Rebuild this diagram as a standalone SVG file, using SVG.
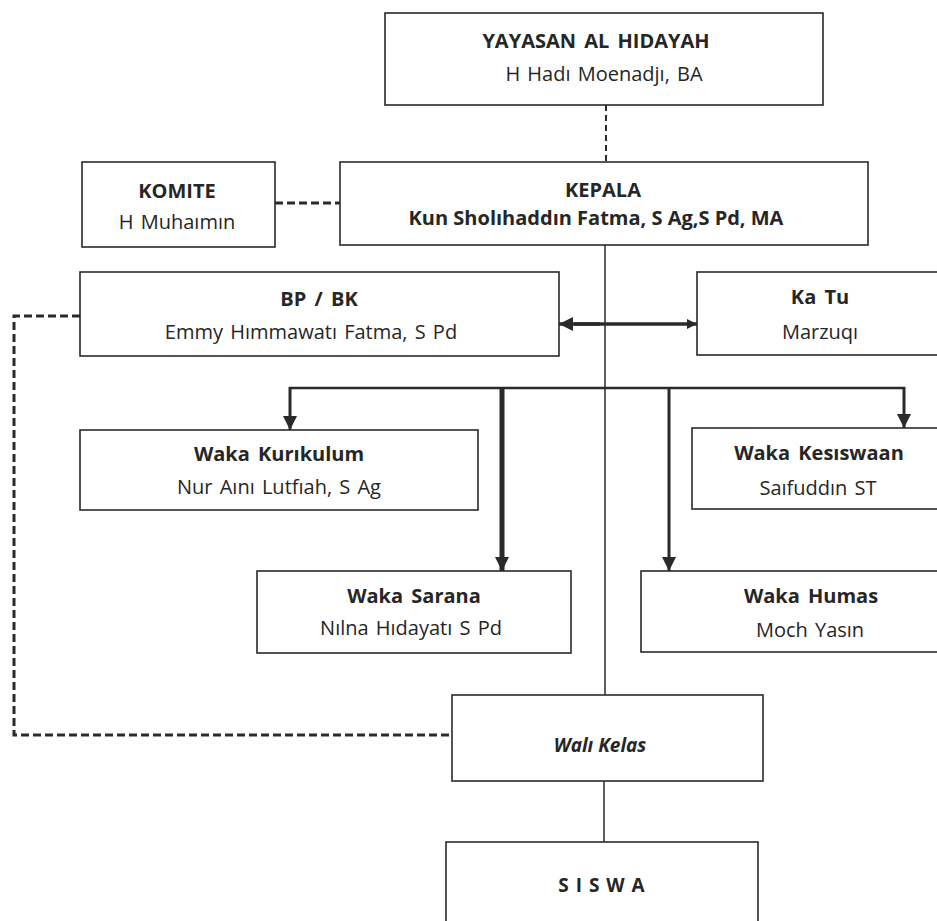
<svg xmlns="http://www.w3.org/2000/svg" width="937" height="921" viewBox="0 0 937 921">
<style>
.box{fill:#fff;stroke:#2a2a2a;stroke-width:1.6}
text{font-family:"Open Sans","Noto Sans","Liberation Sans",sans-serif;font-size:20px;fill:#262626;text-anchor:middle}
.t{font-weight:700;word-spacing:3px}
.s{font-weight:400;word-spacing:2px}
.w{font-weight:700;font-style:italic;font-size:19px}
.sis{font-weight:700;font-size:19px;letter-spacing:1px}
.ln{fill:none;stroke:#2a2a2a}
.dash{fill:none;stroke:#2a2a2a;stroke-width:3;stroke-dasharray:8 4}
</style>
<defs>
<marker id="ah" viewBox="0 0 10 10" refX="10" refY="5" markerUnits="userSpaceOnUse" markerWidth="14" markerHeight="15" orient="auto">
<path d="M0,0 L10,5 L0,10 z" fill="#2a2a2a"/>
</marker>
<marker id="ahs" viewBox="0 0 10 10" refX="10" refY="5" markerUnits="userSpaceOnUse" markerWidth="10" markerHeight="12" orient="auto">
<path d="M0,0 L10,5 L0,10 z" fill="#2a2a2a"/>
</marker>
</defs>
<rect width="937" height="921" fill="#fff"/>
<g id="connectors">
<line class="ln" x1="606" y1="105" x2="606" y2="162" stroke-width="2" stroke-dasharray="6 4"/>
<line class="dash" x1="275" y1="203" x2="340" y2="203"/>
<polyline class="dash" points="80,316 14,316 14,735 452,735"/>
<line class="ln" x1="605" y1="245" x2="605" y2="695" stroke-width="1.5"/>
<line class="ln" x1="604" y1="781" x2="604" y2="842" stroke-width="1.5"/>
<line class="ln" x1="574" y1="324" x2="697" y2="324" stroke-width="3.5" marker-end="url(#ahs)"/>
<line class="ln" x1="600" y1="324" x2="559" y2="324" stroke-width="3.5" marker-end="url(#ah)"/>
<line class="ln" x1="289" y1="388" x2="905" y2="388" stroke-width="2.5"/>
<line class="ln" x1="290" y1="387" x2="290" y2="430" stroke-width="3" marker-end="url(#ah)"/>
<line class="ln" x1="904" y1="387" x2="904" y2="428" stroke-width="3" marker-end="url(#ah)"/>
<line class="ln" x1="502" y1="387" x2="502" y2="571" stroke-width="5" marker-end="url(#ah)"/>
<line class="ln" x1="669" y1="387" x2="669" y2="571" stroke-width="3" marker-end="url(#ah)"/>
</g>
<g id="yayasan">
<rect class="box" x="385" y="13" width="438" height="92"/>
<text class="t" x="596" y="48">YAYASAN AL HIDAYAH</text>
<text class="s" x="604" y="81">H Hadı Moenadjı, BA</text>
</g>
<g id="kepala">
<rect class="box" x="340" y="162" width="528" height="83"/>
<text class="t" x="603" y="197">KEPALA</text>
<text class="t" x="596" y="225" style="word-spacing:0">Kun Sholıhaddın Fatma, S Ag,S Pd, MA</text>
</g>
<g id="komite">
<rect class="box" x="82" y="162" width="193" height="85"/>
<text class="t" x="177" y="198">KOMITE</text>
<text class="s" x="177" y="229">H Muhaımın</text>
</g>
<g id="bpbk">
<rect class="box" x="80" y="272" width="479" height="84"/>
<text class="t" x="319" y="306">BP / BK</text>
<text class="s" x="311" y="339">Emmy Hımmawatı Fatma, S Pd</text>
</g>
<g id="katu">
<rect class="box" x="697" y="272" width="250" height="83"/>
<text class="t" x="820" y="304">Ka Tu</text>
<text class="s" x="820" y="339">Marzuqı</text>
</g>
<g id="kurikulum">
<rect class="box" x="80" y="430" width="398" height="80"/>
<text class="t" x="279" y="461">Waka Kurıkulum</text>
<text class="s" x="279" y="494">Nur Aını Lutfıah, S Ag</text>
</g>
<g id="kesiswaan">
<rect class="box" x="692" y="428" width="256" height="81"/>
<text class="t" x="819" y="460">Waka Kesıswaan</text>
<text class="s" x="818" y="495">Saıfuddın ST</text>
</g>
<g id="sarana">
<rect class="box" x="257" y="571" width="314" height="82"/>
<text class="t" x="414" y="603">Waka Sarana</text>
<text class="s" x="411" y="635">Nılna Hıdayatı S Pd</text>
</g>
<g id="humas">
<rect class="box" x="641" y="571" width="310" height="81"/>
<text class="t" x="811" y="603">Waka Humas</text>
<text class="s" x="810" y="637">Moch Yasın</text>
</g>
<g id="walikelas">
<rect class="box" x="452" y="695" width="311" height="86"/>
<text class="w" x="600" y="752">Walı Kelas</text>
</g>
<g id="siswa">
<rect class="box" x="446" y="842" width="312" height="90"/>
<text class="sis" x="602" y="892">S I S W A</text>
</g>
</svg>
